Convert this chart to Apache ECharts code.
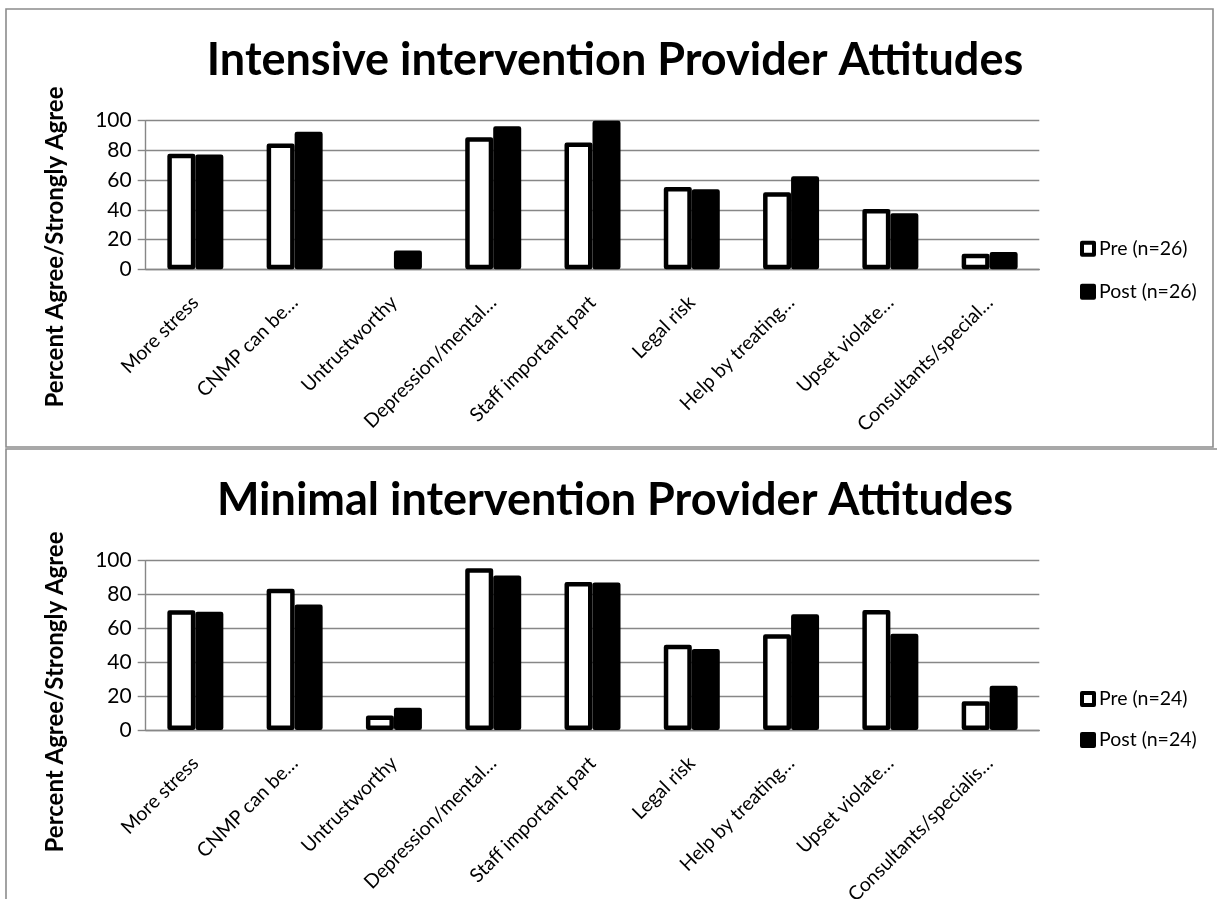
<!DOCTYPE html>
<html>
<head>
<meta charset="utf-8">
<script src="https://cdn.jsdelivr.net/npm/echarts@6/dist/echarts.min.js"></script>
<style>
  html, body { margin: 0; padding: 0; background: #ffffff; }
  #chart { width: 1217px; height: 899px; }
</style>
</head>
<body>
<div id="chart"></div>
<script>
// Survey items (category axis), truncated the way the labels are shown
const intensiveCategories = ['More stress', 'CNMP can be…', 'Untrustworthy', 'Depression/mental…',
  'Staff important part', 'Legal risk', 'Help by treating…', 'Upset violate…', 'Consultants/special…'];
const minimalCategories = ['More stress', 'CNMP can be…', 'Untrustworthy', 'Depression/mental…',
  'Staff important part', 'Legal risk', 'Help by treating…', 'Upset violate…', 'Consultants/specialis…'];

// Percent agree / strongly agree
const intensivePre  = [77.8, 84.6, 0, 88.9, 85.3, 55.4, 51.8, 40.6, 10.4];
const intensivePost = [77.2, 92.5, 12.6, 96.3, 100, 53.9, 62.6, 37.7, 11.7];
const minimalPre    = [70.8, 83.5, 8.5, 95.5, 87.4, 50.3, 56.6, 70.9, 17.0];
const minimalPost   = [69.8, 74.1, 13.2, 91.2, 87.1, 47.9, 68.4, 56.8, 26.2];

const seriesNames = {
  intensive: ['Pre (n=26)', 'Post (n=26)'],
  minimal: ['Pre (n=24)', 'Post (n=24)']
};
const chartTitles = ['Intensive intervention Provider Attitudes', 'Minimal intervention Provider Attitudes'];
const axisTitle = 'Percent Agree/Strongly Agree';

const FONT = 'Lato';
const GRID_COLOR = '#878787';

// zero values are not drawn as bars
function barData(values) {
  return values.map(v => v === 0 ? { value: 0, itemStyle: { borderWidth: 0 } } : v);
}

function barSeries(name, values, fill, idx) {
  return {
    type: 'bar', name: name, data: barData(values),
    xAxisIndex: idx, yAxisIndex: idx,
    barWidth: 28, barGap: '0%',
    itemStyle: { color: fill, borderColor: '#000', borderWidth: 4.5, borderJoin: 'round' },
    silent: true
  };
}

function xAxis(idx, cats) {
  return {
    type: 'category', gridIndex: idx, data: cats,
    axisLine: { lineStyle: { color: GRID_COLOR, width: 1.4 } },
    axisTick: { show: false },
    axisLabel: { rotate: 45, interval: 0, margin: 30, color: '#000', fontFamily: FONT, fontSize: 19.5 }
  };
}

function yAxis(idx) {
  return {
    type: 'value', gridIndex: idx, min: 0, max: 100, interval: 20,
    axisLine: { show: true, lineStyle: { color: GRID_COLOR, width: 1.4 } },
    axisTick: { show: true, length: 8, lineStyle: { color: GRID_COLOR, width: 1.4 } },
    splitLine: { lineStyle: { color: GRID_COLOR, width: 1.4 } },
    axisLabel: { margin: 14, color: '#000', fontFamily: FONT, fontSize: 21 }
  };
}

function legend(names, top, gap) {
  return {
    data: names, orient: 'vertical', left: 1080, top: top, padding: 0,
    itemWidth: 12, itemHeight: 12, itemGap: gap, icon: 'rect',
    selectedMode: false,
    itemStyle: { borderColor: '#000', borderWidth: 4, borderJoin: 'round' },
    textStyle: { color: '#000', fontFamily: FONT, fontSize: 19.5, lineHeight: 20 }
  };
}

function titleText(text, y) {
  return {
    type: 'text', x: 615, y: y, silent: true,
    style: { text: text, fill: '#000', fontFamily: FONT, fontWeight: 'bold', fontSize: 45,
      align: 'center', verticalAlign: 'middle' }
  };
}

function axisName(y) {
  return {
    type: 'text', x: 55, y: y, rotation: Math.PI / 2, silent: true,
    style: { text: axisTitle, fill: '#000', fontFamily: FONT, fontWeight: 'bold', fontSize: 24,
      align: 'center', verticalAlign: 'middle' }
  };
}

const chart = echarts.init(document.getElementById('chart'), null, { renderer: 'canvas' });

chart.setOption({
  animation: false,
  backgroundColor: '#ffffff',
  grid: [
    { left: 145.7, right: 177.7, top: 120.7, height: 148.6, outerBoundsMode: 'none' },
    { left: 145.7, right: 177.7, top: 560.7, height: 169.3, outerBoundsMode: 'none' }
  ],
  xAxis: [xAxis(0, intensiveCategories), xAxis(1, minimalCategories)],
  yAxis: [yAxis(0), yAxis(1)],
  legend: [
    legend(seriesNames.intensive, 238.7, 23),
    legend(seriesNames.minimal, 689, 21)
  ],
  series: [
    barSeries(seriesNames.intensive[0], intensivePre, '#ffffff', 0),
    barSeries(seriesNames.intensive[1], intensivePost, '#000000', 0),
    barSeries(seriesNames.minimal[0], minimalPre, '#ffffff', 1),
    barSeries(seriesNames.minimal[1], minimalPost, '#000000', 1)
  ],
  graphic: [
    { type: 'rect', silent: true, z: -10,
      shape: { x: 6, y: 9, width: 1207, height: 438 },
      style: { fill: 'none', stroke: '#8c8c8c', lineWidth: 1.6 } },
    { type: 'rect', silent: true, z: -10,
      shape: { x: 6, y: 449, width: 1240, height: 500 },
      style: { fill: 'none', stroke: '#8c8c8c', lineWidth: 1.6 } },
    titleText(chartTitles[0], 60),
    titleText(chartTitles[1], 500),
    axisName(247),
    axisName(692)
  ]
});
</script>
</body>
</html>
